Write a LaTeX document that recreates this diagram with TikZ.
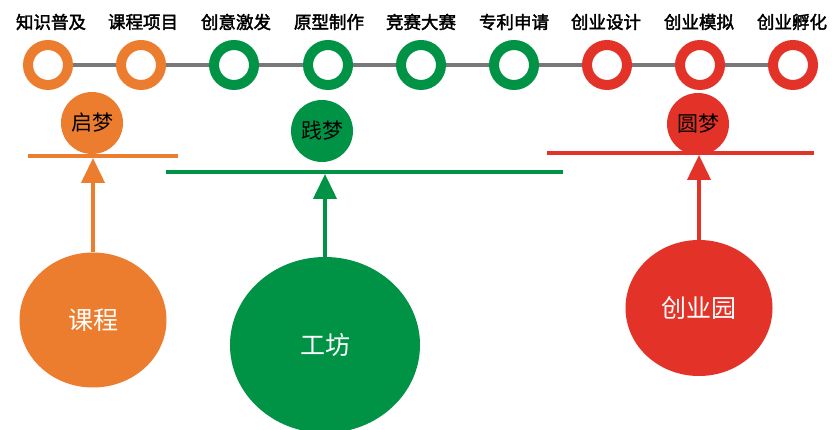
\documentclass[tikz,border=0pt]{standalone}
\usepackage{fontspec}
\newfontfamily\cjk{Noto Sans CJK SC}
\newfontfamily\cjkb[FakeBold=2.2]{Noto Sans CJK SC}
\usetikzlibrary{arrows.meta,backgrounds,shapes.geometric}
\definecolor{cor}{RGB}{237,125,46}
\definecolor{cgr}{RGB}{0,146,69}
\definecolor{crd}{RGB}{227,50,40}
\definecolor{cgy}{RGB}{120,120,120}
\tikzset{
  ring/.style={circle,minimum size=40pt,inner sep=0pt,line width=10pt,fill=white,draw=#1},
  toplabel/.style={font=\cjkb\fontsize{17.5}{17.5}\selectfont,text=black,inner sep=0pt},
  dream/.style={circle,minimum size=62pt,inner sep=0pt,fill=#1,text=black,font=\cjk\fontsize{21}{21}\selectfont},
  base/.style={ellipse,inner sep=0pt,fill=#1,text=white,font=\cjk\fontsize{25}{25}\selectfont},
  bar/.style={line width=4pt,draw=#1},
  uparrow/.style={line width=4pt,draw=#1,-{Triangle[width=23pt,length=25pt,fill=#1]}},
}
\begin{document}
\begin{tikzpicture}[x=1pt,y=-1pt]
\useasboundingbox (0,0) rectangle (832,430);
% rings
\node[ring=cor] (r1) at (48,65) {};
\node[ring=cor] (r2) at (141,65) {};
\node[ring=cgr] (r3) at (234,65) {};
\node[ring=cgr] (r4) at (328,65) {};
\node[ring=cgr] (r5) at (421,65) {};
\node[ring=cgr] (r6) at (514,65) {};
\node[ring=crd] (r7) at (607,65) {};
\node[ring=crd] (r8) at (700,65) {};
\node[ring=crd] (r9) at (793,65) {};
\begin{scope}[on background layer]
\fill[white] (0,0) rectangle (832,430);
\draw[cgy,line width=3.5pt] (r1.center) -- (r9.center);
\end{scope}
% top labels
\node[toplabel] (t1) at (51,22) {知识普及};
\node[toplabel] (t2) at (143,22) {课程项目};
\node[toplabel] (t3) at (236,22) {创意激发};
\node[toplabel] (t4) at (329,22) {原型制作};
\node[toplabel] (t5) at (421,22) {竞赛大赛};
\node[toplabel] (t6) at (514,22) {专利申请};
\node[toplabel] (t7) at (606,22) {创业设计};
\node[toplabel] (t8) at (699,22) {创业模拟};
\node[toplabel] (t9) at (792,22) {创业孵化};
% dream circles
\node[dream=cor] (d1) at (92,123) {启梦};
\node[dream=cgr] (d2) at (322,131) {践梦};
\node[dream=crd] (d3) at (698,124) {圆梦};
% bars
\coordinate (b1l) at (28,156);
\coordinate (b1r) at (178,156);
\coordinate (b2l) at (166,172);
\coordinate (b2r) at (563,172);
\coordinate (b3l) at (547,153);
\coordinate (b3r) at (814,153);
\draw[bar=cor] (b1l) -- (b1r);
\draw[bar=cgr] (b2l) -- (b2r);
\draw[bar=crd] (b3l) -- (b3r);
% base circles
\node[base=cor,minimum width=147pt,minimum height=135pt] (k1) at (93,320) {课程};
\node[base=cgr,minimum width=190pt,minimum height=176pt] (k2) at (325,345) {工坊};
\node[base=crd,minimum width=147pt,minimum height=136pt] (k3) at (699,308) {创业园};
% arrows
\coordinate (a1) at (93,158);
\coordinate (a2) at (325,174);
\coordinate (a3) at (699,155);
\draw[uparrow=cor] (k1.north) -- (a1);
\draw[uparrow=cgr] (k2.north) -- (a2);
\draw[uparrow=crd] (k3.north) -- (a3);
\end{tikzpicture}
\end{document}
